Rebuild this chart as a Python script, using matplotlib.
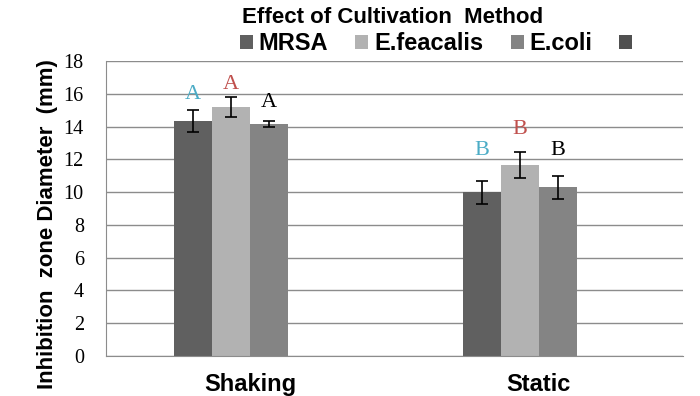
import matplotlib.pyplot as plt
import numpy as np

methods = ["Shaking", "Static"]
series = ["MRSA", "E.feacalis", "E.coli", ""]
values = {
    "MRSA": [14.35, 10.0],
    "E.feacalis": [15.2, 11.65],
    "E.coli": [14.15, 10.3],
    "": [0, 0],
}
errors = {
    "MRSA": [0.67, 0.7],
    "E.feacalis": [0.6, 0.8],
    "E.coli": [0.2, 0.7],
    "": [0, 0],
}
letters = {
    "MRSA": ["A", "B"],
    "E.feacalis": ["A", "B"],
    "E.coli": ["A", "B"],
}
# heights where the significance letters sit
letter_y = {
    "MRSA": [15.68, 12.26],
    "E.feacalis": [16.29, 13.55],
    "E.coli": [15.19, 12.26],
}
colors = ["#606060", "#b2b2b2", "#848484", "#505050"]
letter_colors = {"MRSA": "#4bacc6", "E.feacalis": "#c0504d", "E.coli": "black"}

fig = plt.figure(figsize=(7, 3.96), dpi=100)
ax = fig.add_axes([0.1514, 0.101, 0.8243, 0.745])

x = np.arange(len(methods))
w = 0.132
for i, s in enumerate(series):
    pos = x + (i - 1.5) * w
    if s:
        ax.bar(pos, values[s], w, color=colors[i], label=s, zorder=2)
        ax.errorbar(pos, values[s], yerr=errors[s], fmt="none", ecolor="black",
                    elinewidth=1.2, capsize=4, capthick=1.2, zorder=3)
        for p, ly, t in zip(pos, letter_y[s], letters[s]):
            ax.text(p, ly, t, ha="center", va="baseline",
                    family="Liberation Serif", fontsize=16, color=letter_colors[s])
    else:
        ax.bar(pos, values[s], w, color=colors[i], label=" ", zorder=2)

ax.set_xlim(-0.5, 1.5)
ax.set_ylim(0, 18)
ax.set_yticks(np.arange(0, 19, 2))
ax.yaxis.grid(True, color="#8c8c8c", linewidth=1, zorder=0)
ax.set_axisbelow(True)
ax.tick_params(axis="y", length=0, pad=16)
ax.tick_params(axis="x", length=0, pad=12)
for lab in ax.get_yticklabels():
    lab.set_family("Liberation Serif")
    lab.set_fontsize(14.5)
ax.set_xticks(x)
ax.set_xticklabels(methods, family="Liberation Sans", fontweight="bold", fontsize=17)
for side in ["top", "right"]:
    ax.spines[side].set_visible(False)
ax.spines["left"].set_color("#8c8c8c")
ax.spines["bottom"].set_color("#8c8c8c")
ax.set_ylabel("Inhibition  zone Diameter  (mm)", family="Liberation Sans",
              fontweight="bold", fontsize=16)
ax.yaxis.set_label_coords(-0.084, 0.447)

fig.text(0.561, 0.957, "Effect of Cultivation  Method", ha="center", va="center",
         family="Liberation Sans", fontweight="bold", fontsize=16)
fig.legend(loc="center", bbox_to_anchor=(0.632, 0.889), ncol=4, frameon=False,
           prop={"family": "Liberation Sans", "weight": "bold", "size": 17},
           handlelength=0.55, handleheight=0.55, handletextpad=0.25,
           columnspacing=1.15, borderpad=0, borderaxespad=0)

plt.savefig("out.png", dpi=100)
